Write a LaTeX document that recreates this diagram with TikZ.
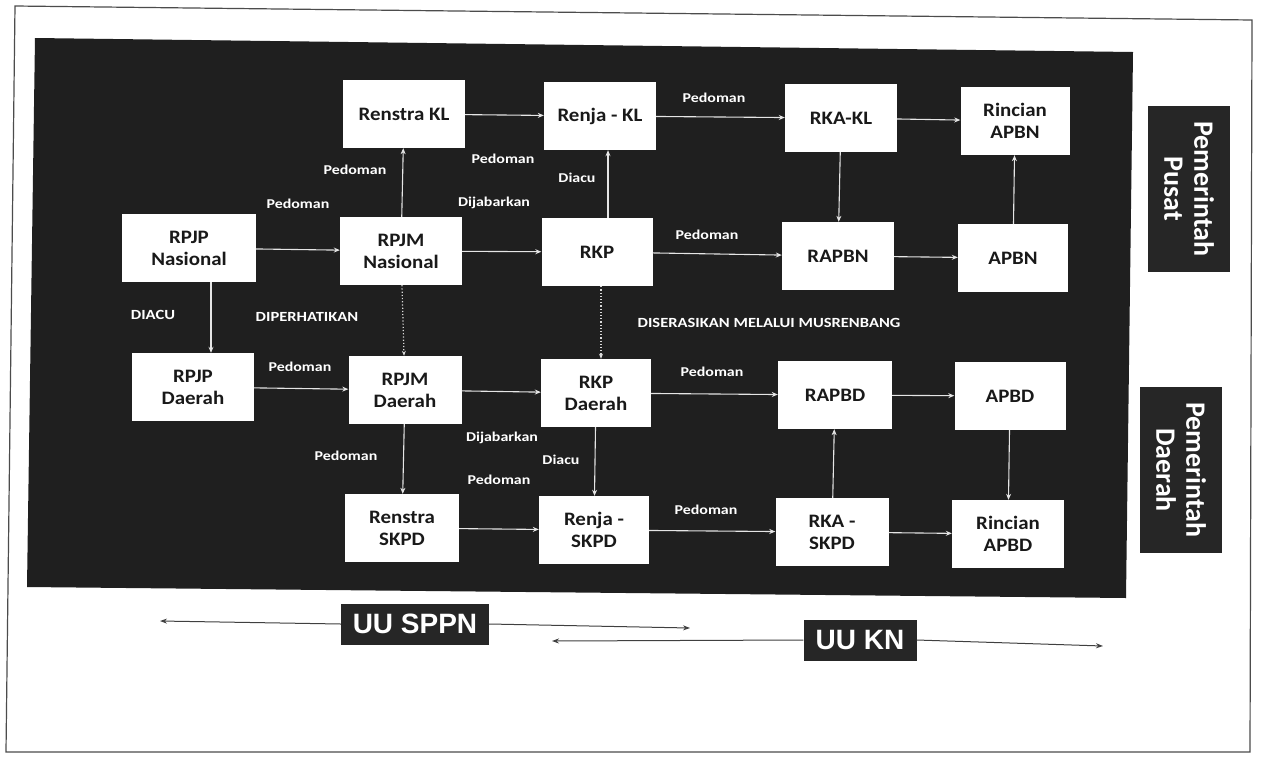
\documentclass[tikz,border=0pt]{standalone}
\usepackage{fontspec}
\setmainfont{Carlito}
\newfontfamily\boxfont[FakeStretch=1.1]{Carlito}
\newfontfamily\lblfont[FakeStretch=1.18]{Carlito}
\newfontfamily\uufont{Liberation Sans}
\usetikzlibrary{arrows.meta}
\begin{document}
\begin{tikzpicture}[x=1pt,y=-1pt,
  box/.style={fill=white, draw=none, minimum width=112pt, minimum height=68pt, inner sep=2pt, align=center, text=black!90, font=\boxfont\bfseries\fontsize{19}{22}\selectfont},
  lbl/.style={text=white, inner sep=0pt, font=\lblfont\bfseries\fontsize{13.5}{14}\selectfont},
  capl/.style={text=white, inner sep=0pt, font=\lblfont\bfseries\fontsize{14}{14}\selectfont},
  flow/.style={draw=white!90!black, line width=1.1pt, -{Stealth[length=6pt,width=5pt]}},
  dots/.style={draw=white!85!black, line width=1.2pt, dotted, -{Stealth[length=5pt,width=4pt]}},
  side/.style={fill=black!85, text=white, rotate=-90, minimum width=166pt, minimum height=82pt, align=center, font=\bfseries\fontsize{28}{30}\selectfont},
  uubox/.style={fill=black!85, text=white, minimum width=148pt, minimum height=41pt, inner sep=2pt, font=\uufont\bfseries\fontsize{28}{28}\selectfont},
  uuline/.style={draw=black!75, line width=1pt, -{Stealth[length=7pt,width=5pt]}},
]
\useasboundingbox (0,0) rectangle (1264,761);
\fill[white] (0,0) rectangle (1264,761);
\draw[black!70, line width=1.2pt] (15,6) -- (1252,20) -- (1250,752) -- (6,752) -- cycle;
\fill[black!88] (35,38) -- (1133,52) -- (1126,598) -- (27,587) -- cycle;

% boxes
\node[box, minimum width=122pt] (renstrakl) at (404,114) {Renstra KL};
\node[box] (renjakl) at (600,116) {Renja - KL};
\node[box] (rkakl) at (841,118) {RKA-KL};
\node[box, minimum width=109pt] (rincianapbn) at (1015,121) {Rincian\\APBN};
\node[box, minimum width=134pt] (rpjpn) at (189,248) {RPJP\\Nasional};
\node[box, minimum width=122pt] (rpjmn) at (401,251) {RPJM\\Nasional};
\node[box, minimum width=111pt] (rkp) at (597,252) {RKP};
\node[box] (rapbn) at (838,256) {RAPBN};
\node[box, minimum width=110pt] (apbn) at (1013,258) {APBN};
\node[box, minimum width=122pt] (rpjpd) at (193,387) {RPJP\\Daerah};
\node[box, minimum width=113pt] (rpjmd) at (405,390) {RPJM\\Daerah};
\node[box, minimum width=110pt] (rkpd) at (596,393) {RKP\\Daerah};
\node[box, minimum width=114pt] (rapbd) at (835,395) {RAPBD};
\node[box, minimum width=111pt] (apbd) at (1010,396) {APBD};
\node[box, minimum width=114pt] (renstraskpd) at (402,528) {Renstra\\SKPD};
\node[box, minimum width=110pt] (renjaskpd) at (594,530) {Renja -\\SKPD};
\node[box, minimum width=113pt] (rkaskpd) at (832,532) {RKA -\\SKPD};
\node[box] (rincianapbd) at (1008,534) {Rincian\\APBD};

% connectors
\draw[flow] (renstrakl) -- (renjakl);
\draw[flow] (renjakl) -- (rkakl);
\draw[flow] (rkakl) -- (rincianapbn);
\draw[flow] (rkakl) -- (rapbn);
\draw[flow] (apbn) -- (rincianapbn);
\draw[flow] (rpjpn) -- (rpjmn);
\draw[flow] (rpjmn) -- (renstrakl);
\draw[flow] (rpjmn) -- (rkp);
\draw[flow] ([xshift=11pt]rkp.north) -- ([xshift=8pt]renjakl.south);
\draw[flow] (rkp) -- (rapbn);
\draw[flow] (rapbn) -- (apbn);
\draw[flow] ([xshift=22pt]rpjpn.south) -- ([xshift=18pt]rpjpd.north);
\draw[dots] (rpjmn) -- (rpjmd);
\draw[dots] ([xshift=4pt]rkp.south) -- ([xshift=5pt]rkpd.north);
\draw[flow] (rpjpd) -- (rpjmd);
\draw[flow] (rpjmd) -- (rkpd);
\draw[flow] (rkpd) -- (rapbd);
\draw[flow] (rapbd) -- (apbd);
\draw[flow] (apbd) -- (rincianapbd);
\draw[flow] (rpjmd) -- (renstraskpd);
\draw[flow] (rkpd) -- (renjaskpd);
\draw[flow] (renstraskpd) -- (renjaskpd);
\draw[flow] (renjaskpd) -- (rkaskpd);
\draw[flow] (rkaskpd) -- (rapbd);
\draw[flow] (rkaskpd) -- (rincianapbd);

% labels
\node[lbl] (l1) at (355,170) {Pedoman};
\node[lbl] (l2) at (298,204) {Pedoman};
\node[lbl] (l3) at (503,159) {Pedoman};
\node[lbl] (l4) at (577,178) {Diacu};
\node[lbl] (l5) at (494,203) {Dijabarkan};
\node[lbl] (l6) at (714,98) {Pedoman};
\node[lbl] (l7) at (707,235) {Pedoman};
\node[capl] (l8) at (153,315) {DIACU};
\node[capl] (l9) at (307,317) {DIPERHATIKAN};
\node[capl] (l10) at (769,323) {DISERASIKAN MELALUI MUSRENBANG};
\node[lbl] (l11) at (300,367) {Pedoman};
\node[lbl] (l12) at (712,372) {Pedoman};
\node[lbl] (l13) at (346,456) {Pedoman};
\node[lbl] (l14) at (502,438) {Dijabarkan};
\node[lbl] (l15) at (561,460) {Diacu};
\node[lbl] (l16) at (499,480) {Pedoman};
\node[lbl] (l17) at (706,510) {Pedoman};

% side labels
\node[side] (pusat) at (1189,189) {Pemerintah\\Pusat};
\node[side] (daerah) at (1181,470) {Pemerintah\\Daerah};

% bottom
\node[uubox] (sppn) at (415,624) {UU SPPN};
\node[uubox, minimum width=113pt] (kn) at (860,640) {UU KN};
\coordinate (s1) at (160,621);
\coordinate (s2) at (690,628);
\coordinate (k1) at (552,641);
\coordinate (k2) at (1103,646);
\draw[uuline] (sppn.west) -- (s1);
\draw[uuline] (sppn.east) -- (s2);
\draw[uuline] (kn.west) -- (k1);
\draw[uuline] (kn.east) -- (k2);
\end{tikzpicture}
\end{document}
